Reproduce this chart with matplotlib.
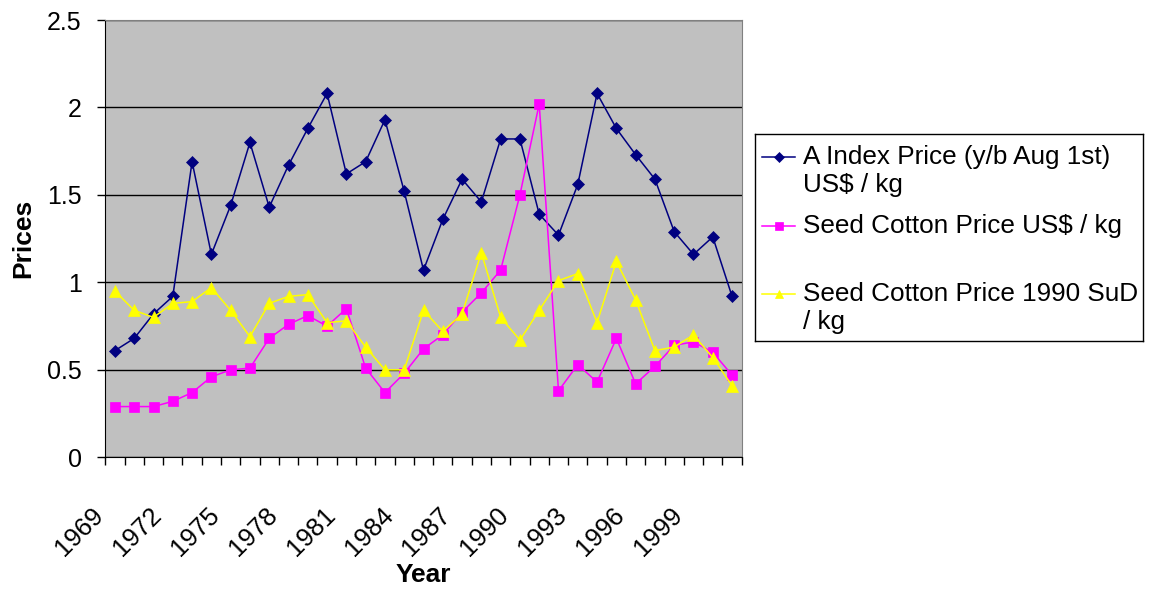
import matplotlib
matplotlib.use("Agg")
import matplotlib.pyplot as plt
import matplotlib.transforms as mtransforms
import numpy as np

plt.rcParams['font.family'] = ['Liberation Sans', 'DejaVu Sans']

years = list(range(1969, 2002))

a_index = [0.61, 0.68, 0.82, 0.92, 1.69, 1.16, 1.44, 1.80, 1.43, 1.67, 1.88,
           2.08, 1.62, 1.69, 1.93, 1.52, 1.07, 1.36, 1.59, 1.46, 1.82, 1.82,
           1.39, 1.27, 1.56, 2.08, 1.88, 1.73, 1.59, 1.29, 1.16, 1.26, 0.92]

seed_usd = [0.29, 0.29, 0.29, 0.32, 0.37, 0.46, 0.50, 0.51, 0.68, 0.76, 0.81,
            0.75, 0.85, 0.51, 0.37, 0.48, 0.62, 0.70, 0.83, 0.94, 1.07, 1.50,
            2.02, 0.38, 0.53, 0.43, 0.68, 0.42, 0.52, 0.64, 0.66, 0.60, 0.47]

seed_sud = [0.95, 0.84, 0.80, 0.88, 0.89, 0.97, 0.84, 0.69, 0.88, 0.92, 0.93,
            0.77, 0.78, 0.63, 0.50, 0.50, 0.84, 0.72, 0.82, 1.17, 0.80, 0.67,
            0.84, 1.01, 1.05, 0.77, 1.12, 0.90, 0.61, 0.63, 0.70, 0.57, 0.41]

labels = ["A Index Price (y/b Aug 1st)\nUS$ / kg",
          "Seed Cotton Price US$ / kg",
          "Seed Cotton Price 1990 SuD\n/ kg"]

styles = [dict(color="#000080", marker="D", markersize=6.3),
          dict(color="#FF00FF", marker="s", markersize=7.2),
          dict(color="#FFFF00", marker="^", markersize=8)]

fig = plt.figure(figsize=(11.49, 5.89), dpi=100)
ax = fig.add_axes([105.3 / 1149, 1 - 457.3 / 589, 636.4 / 1149, 437.3 / 589])
ax.set_facecolor("#C0C0C0")

for series, st in zip([a_index, seed_usd, seed_sud], styles):
    ax.plot(years, series, linewidth=1.1, markeredgewidth=0.5,
            markeredgecolor=st["color"], zorder=3, **st)

ax.set_xlim(1968.5, 2001.5)
ax.set_ylim(0, 2.5)
ax.set_yticks(np.arange(0, 2.51, 0.5))
ax.set_yticklabels(["0", "0.5", "1", "1.5", "2", "2.5"])
ax.yaxis.grid(True, color="black", linewidth=1)
ax.set_axisbelow(True)

ax.set_xticks(years[::3])
ax.set_xticks(np.arange(1968.5, 2002, 1), minor=True)
ax.tick_params(axis="x", which="major", length=0, pad=39, labelsize=18.5)
ax.tick_params(axis="x", which="minor", length=6, width=1, direction="out")
ax.tick_params(axis="y", length=6, width=1, direction="out", pad=11, labelsize=18)
for lab in ax.get_xticklabels():
    lab.set_rotation(45)
    lab.set_rotation_mode("anchor")
    lab.set_ha("right")
    lab.set_va("center")
    lab.set_transform(lab.get_transform() +
                      mtransforms.ScaledTranslation(-0.15, 0, fig.dpi_scale_trans))

for side in ["top", "right"]:
    ax.spines[side].set_color("#808080")
for side in ["left", "bottom"]:
    ax.spines[side].set_color("black")

ax.set_xlabel("Year", fontsize=19, fontweight="bold")
ax.xaxis.set_label_coords(0.5, -0.269)
ax.xaxis.label.set_va("center")
ax.set_ylabel("Prices", fontsize=19, fontweight="bold")
ax.yaxis.set_label_coords(-0.11, 0.5)

# legend box drawn in its own axes, pixel-like coordinates inside
lax = fig.add_axes([755 / 1149, 1 - 341 / 589, 388 / 1149, 207 / 589])
lax.set_xlim(0, 388)
lax.set_ylim(207, 0)
lax.set_xticks([])
lax.set_yticks([])
for sp in lax.spines.values():
    sp.set_color("black")
    sp.set_linewidth(1)
entry_y = [23, 92, 160]
for lab, st, y in zip(labels, styles, entry_y):
    lax.plot([7, 24, 40], [y, y, y], linewidth=1.1, markevery=[1],
             markeredgewidth=0.5, markeredgecolor=st["color"],
             color=st["color"], marker=st["marker"],
             markersize=st["markersize"] * 0.8)
    lax.text(48, y - 12, lab, fontsize=18.8, va="top", ha="left", linespacing=1.22)

fig.savefig("out.png", dpi=100)
